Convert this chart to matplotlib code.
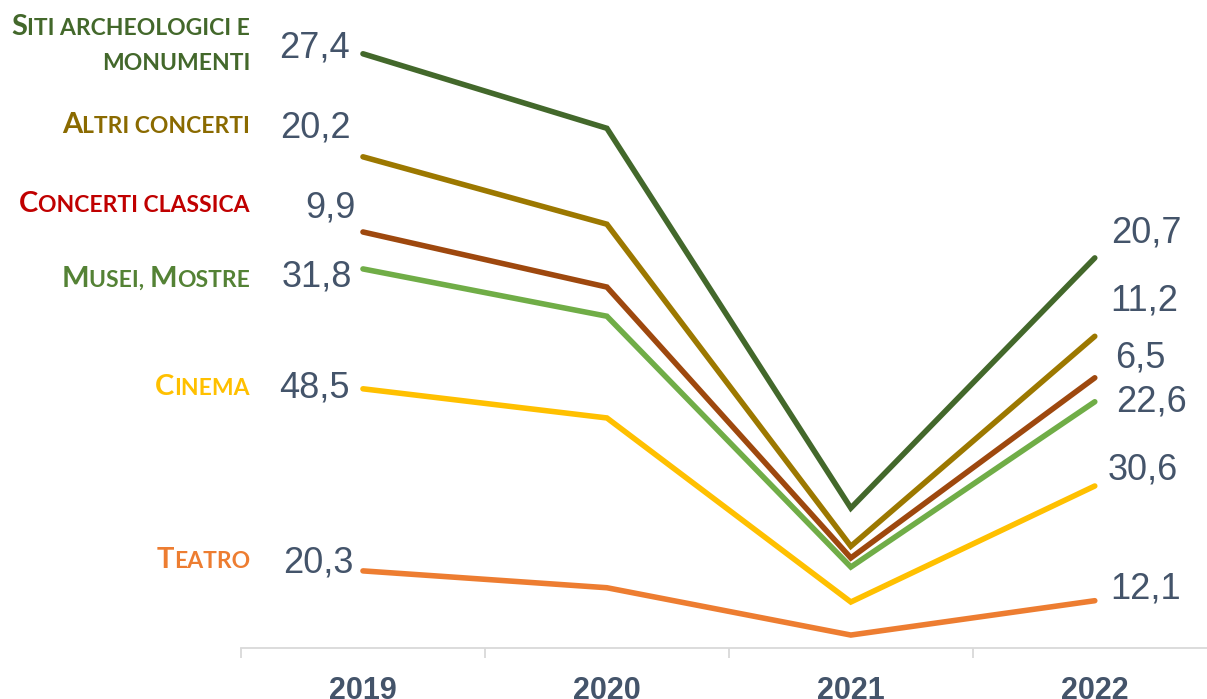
import matplotlib.pyplot as plt
from matplotlib.transforms import IdentityTransform

anni = ['2019', '2020', '2021', '2022']
serie = ['Siti archeologici e', 'Altri concerti', 'Concerti classica',
         'Musei, Mostre', 'Cinema', 'Teatro']

# andamento delle linee (indice 0-100)
siti = [91.7, 80.2, 21.6, 60.2]
altri_concerti = [75.8, 65.4, 15.7, 48.1]
concerti_classica = [64.2, 55.7, 13.9, 41.7]
musei = [58.5, 51.2, 12.5, 38.0]
cinema = [40.0, 35.5, 7.1, 25.0]
teatro = [11.9, 9.3, 2.0, 7.3]
linee = [siti, altri_concerti, concerti_classica, musei, cinema, teatro]

# valori riportati a inizio e fine periodo
val_2019 = ['27,4', '20,2', '9,9', '31,8', '48,5', '20,3']
val_2022 = ['20,7', '11,2', '6,5', '22,6', '30,6', '12,1']

col_linee = ['#43682B', '#9C7800', '#9E480E', '#70AD47', '#FFC000', '#ED7D31']
col_testo = ['#43682B', '#8A6A00', '#C00000', '#548235', '#FFC000', '#ED7D31']
grigio = '#44546A'

# spostamenti delle etichette (pixel) rispetto al punto della linea
off_sx = [(-13, -4), (-12, 19), (-7, 14), (-11, -18), (-13, -9), (-9, -2)]
off_dx = [(16, 15), (15, 26), (20, 10), (21, -10), (13, 7), (15, 2)]
# linea di base delle etichette di categoria (pixel dall'alto)
base_cat = [35, 133, 212, 287, 395, 568]

W, H = 1207, 699
fig = plt.figure(figsize=(W / 100, H / 100), dpi=100)
ax = fig.add_axes([241 / W, 1 - 648 / H, 966 / W, 648 / H])

x = range(len(anni))
for i, y in enumerate(linee):
    ax.plot(x, y, color=col_linee[i], lw=4.0, solid_capstyle='round',
            solid_joinstyle='miter', clip_on=False)
    ax.annotate(val_2019[i], (0, y[0]), xytext=off_sx[i], textcoords='offset pixels',
                ha='right', va='baseline', fontsize=26, color=grigio,
                family='Liberation Sans')
    ax.annotate(val_2022[i], (3, y[-1]), xytext=off_dx[i], textcoords='offset pixels',
                ha='left', va='baseline', fontsize=26, color=grigio,
                family='Liberation Sans')

ax.set_xlim(-0.5, 3.46)
ax.set_ylim(0, 100)
ax.set_yticks([])
for s in ['left', 'right', 'top']:
    ax.spines[s].set_visible(False)
ax.spines['bottom'].set_color('#D9D9D9')
ax.spines['bottom'].set_linewidth(1.3)
ax.set_xticks(list(x))
ax.set_xticklabels(anni, fontsize=22, fontweight='bold', color=grigio,
                   family=['Liberation Sans Narrow', 'Liberation Sans'])
ax.set_xticks([-0.5, 0.5, 1.5, 2.5], minor=True)
ax.tick_params(axis='x', which='major', length=0, pad=20)
ax.tick_params(axis='x', which='minor', length=7, width=1.3, color='#D9D9D9')

rend = fig.canvas.get_renderer()


def maiuscoletto(xr, ybase, testo, colore, big=21, small=16.5):
    pezzi = []
    for ch in testo:
        g = ch.isupper()
        if pezzi and pezzi[-1][1] == g:
            pezzi[-1][0] += ch
        else:
            pezzi.append([ch, g])
    xx = xr
    for t, g in reversed(pezzi):
        tx = fig.text(xx, H - ybase, t.upper(), transform=IdentityTransform(),
                      ha='right', va='baseline', fontsize=big if g else small,
                      fontweight='bold', color=colore, family='Lato')
        xx -= tx.get_window_extent(rend).width


for i, nome in enumerate(serie):
    maiuscoletto(250, base_cat[i], nome, col_testo[i])
maiuscoletto(250, 70, 'monumenti', col_testo[0])

fig.savefig('out.png', dpi=100)
